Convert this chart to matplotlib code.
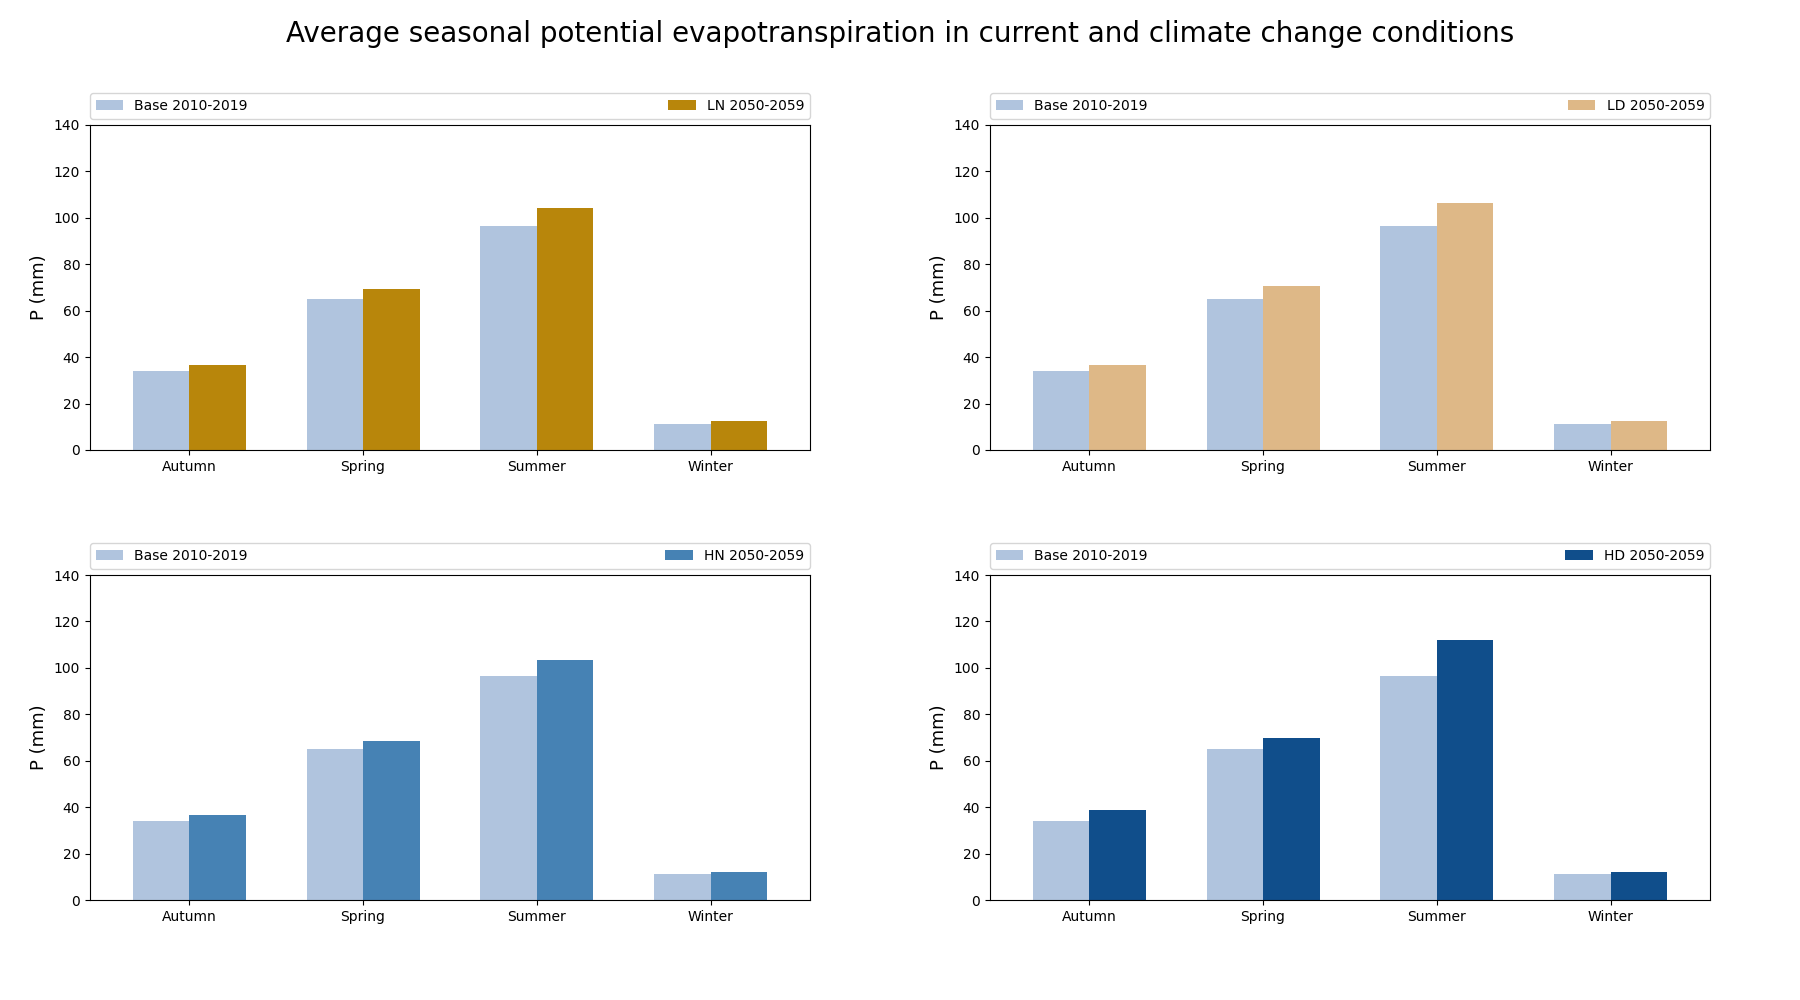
import matplotlib
matplotlib.use("Agg")
from matplotlib import pyplot as plt
import numpy as np

seasons = ["Autumn", "Spring", "Summer", "Winter"]
base = [34.1, 65.1, 96.6, 11.2]
base_label = "Base 2010-2019"

ln = [36.7, 69.4, 104.4, 12.5]
ld = [36.7, 70.7, 106.5, 12.5]
hn = [36.7, 68.6, 103.5, 12.1]
hd = [38.8, 69.9, 112.1, 12.1]

scenarios = [ln, ld, hn, hd]
scenario_labels = ["LN 2050-2059", "LD 2050-2059", "HN 2050-2059", "HD 2050-2059"]
colors = ["#B8860B", "#DEB887", "#4682B4", "#104E8B"]

fig, axs = plt.subplots(2, 2, figsize=(18, 10), dpi=100)
plt.subplots_adjust(left=0.05, right=0.95, bottom=0.1, top=0.875, wspace=0.25, hspace=0.385)
fig.suptitle("Average seasonal potential evapotranspiration in current and climate change conditions",
             fontsize=20, y=0.98)

x = np.arange(len(seasons))
width = 0.325

for ax, vals, lab, col in zip(axs.flat, scenarios, scenario_labels, colors):
    ax.bar(x - width / 2, base, width, color="#B0C4DE", label=base_label)
    ax.bar(x + width / 2, vals, width, color=col, label=lab)
    ax.set_xticks(x)
    ax.set_xticklabels(seasons)
    ax.set_xlim(-0.57, 3.57)
    ax.set_ylim(0, 140)
    ax.set_ylabel("P (mm)", fontsize=13)
    ax.legend(bbox_to_anchor=(0, 1.02, 1, 0.102), loc="lower left", ncol=2,
              mode="expand", borderaxespad=0)

plt.savefig("out.png")
